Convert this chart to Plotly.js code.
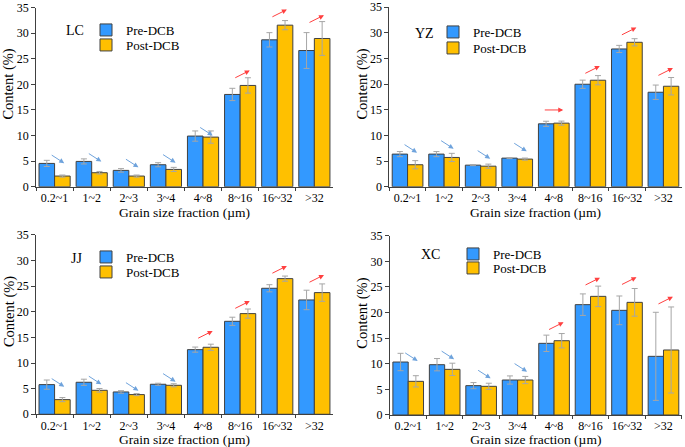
<!DOCTYPE html>
<html>
<head>
<meta charset="utf-8">
<script src="https://cdn.plot.ly/plotly-3.0.1.min.js"></script>
<style>
  html, body { margin: 0; padding: 0; background: #fff; }
  #gd { width: 685px; height: 447px; }
</style>
</head>
<body>
<div id="gd"></div>
<script>
const categories = ['0.2~1', '1~2', '2~3', '3~4', '4~8', '8~16', '16~32', '>32'];

// LC
const lcPre = [4.55, 4.94, 3.19, 4.29, 9.89, 18.02, 28.69, 26.6];
const lcPreErr = [0.6, 0.5, 0.35, 0.4, 1.0, 1.2, 1.4, 3.5];
const lcPost = [2.08, 2.73, 2.08, 3.38, 9.69, 19.78, 31.55, 28.95];
const lcPostErr = [0.2, 0.25, 0.2, 0.4, 1.2, 1.5, 0.9, 3.3];
const lcArrowY = [4.6, 4.9, 3.8, 4.7, 10.0, 22.7, 34.6, 33.5];
const lcTrend = ['down', 'down', 'down', 'down', 'down', 'up', 'up', 'up'];

// YZ
const yzPre = [6.35, 6.35, 4.2, 5.57, 12.25, 19.96, 26.83, 18.4];
const yzPreErr = [0.5, 0.5, 0.1, 0.1, 0.5, 0.8, 0.7, 1.4];
const yzPost = [4.28, 5.7, 4.0, 5.38, 12.38, 20.74, 28.13, 19.57];
const yzPostErr = [0.8, 0.8, 0.4, 0.2, 0.4, 0.9, 0.7, 1.7];
const yzArrowY = [6.63, 7.4, 5.46, 6.9, 14.95, 23.5, 31.0, 23.1];
const yzTrend = ['down', 'down', 'down', 'down', 'flat', 'up', 'up', 'up'];

// JJ
const jjPre = [5.79, 6.25, 4.36, 5.86, 12.62, 18.15, 24.6, 22.32];
const jjPreErr = [0.9, 0.6, 0.25, 0.2, 0.5, 0.8, 0.7, 1.9];
const jjPost = [2.86, 4.68, 3.84, 5.66, 13.08, 19.65, 26.48, 23.75];
const jjPostErr = [0.4, 0.35, 0.2, 0.3, 0.6, 0.9, 0.5, 1.7];
const jjArrowY = [5.39, 5.86, 4.6, 6.37, 16.27, 22.1, 28.96, 27.2];
const jjTrend = ['down', 'down', 'down', 'down', 'up', 'up', 'up', 'up'];

// XC
const xcPre = [10.34, 9.82, 5.73, 6.83, 13.99, 21.54, 20.43, 11.45];
const xcPreErr = [1.7, 1.2, 0.6, 0.8, 1.6, 2.1, 2.8, 8.6];
const xcPost = [6.57, 8.91, 5.6, 6.83, 14.5, 23.16, 21.99, 12.69];
const xcPostErr = [1.1, 1.2, 0.6, 0.7, 1.4, 2.0, 2.7, 8.4];
const xcArrowY = [10.55, 10.9, 7.16, 8.46, 18.1, 26.8, 26.9, 23.1];
const xcTrend = ['down', 'down', 'down', 'down', 'up', 'up', 'up', 'up'];

const preColor = '#3399FF';
const postColor = '#FFC000';
const font = '"Liberation Serif", "Times New Roman", serif';

// leg: [legend left px, Pre-DCB row y px, Post-DCB row y px]
const panels = [
  {name: 'LC', pre: lcPre, preErr: lcPreErr, post: lcPost, postErr: lcPostErr, arrowY: lcArrowY, trend: lcTrend,
   xd: [0.0526, 0.486], yd: [0.5823, 0.9832], label: [75, 30], leg: [86, 30, 45]},
  {name: 'YZ', pre: yzPre, preErr: yzPreErr, post: yzPost, postErr: yzPostErr, arrowY: yzArrowY, trend: yzTrend,
   xd: [0.5683, 0.9952], yd: [0.5823, 0.9843], label: [424, 33], leg: [433, 32, 48]},
  {name: 'JJ', pre: jjPre, preErr: jjPreErr, post: jjPost, postErr: jjPostErr, arrowY: jjArrowY, trend: jjTrend,
   xd: [0.0526, 0.486], yd: [0.0732, 0.4743], label: [76, 258], leg: [86, 257, 272]},
  {name: 'XC', pre: xcPre, preErr: xcPreErr, post: xcPost, postErr: xcPostErr, arrowY: xcArrowY, trend: xcTrend,
   xd: [0.5693, 0.9952], yd: [0.0716, 0.4727], label: [430, 254], leg: [453, 254, 268]}
];

let data = [];
let layout = {
  width: 685,
  height: 447,
  margin: {l: 0, r: 0, t: 0, b: 0},
  paper_bgcolor: '#fff',
  plot_bgcolor: '#fff',
  font: {family: font, color: '#000', size: 12},
  showlegend: true,
  barmode: 'group',
  bargap: 0.16,
  bargroupgap: 0,
  annotations: []
};

function legendBox(left, rowY) {
  return {
    x: left / 685,
    y: 1 - rowY / 447,
    xanchor: 'left',
    yanchor: 'middle',
    bgcolor: 'rgba(0,0,0,0)',
    borderwidth: 0,
    font: {family: font, size: 13, color: '#000'},
    itemwidth: 30,
    visible: true
  };
}

panels.forEach((p, k) => {
  const n = k === 0 ? '' : String(k + 1);
  const legPre = 'legend' + (k === 0 ? '' : String(2 * k + 1));
  const legPost = 'legend' + String(2 * k + 2);
  const common = {
    type: 'bar',
    x: categories,
    xaxis: 'x' + n,
    yaxis: 'y' + n,
    showlegend: true,
    hoverinfo: 'y'
  };
  data.push(Object.assign({}, common, {
    y: p.pre,
    name: 'Pre-DCB',
    legend: legPre,
    marker: {color: preColor, line: {color: '#404040', width: 1}},
    error_y: {type: 'data', array: p.preErr, visible: true, color: '#A6A6A6', thickness: 1, width: 3}
  }));
  data.push(Object.assign({}, common, {
    y: p.post,
    name: 'Post-DCB',
    legend: legPost,
    marker: {color: postColor, line: {color: '#404040', width: 1}},
    error_y: {type: 'data', array: p.postErr, visible: true, color: '#A6A6A6', thickness: 1, width: 3}
  }));
  layout[legPre] = legendBox(p.leg[0], p.leg[1]);
  layout[legPost] = legendBox(p.leg[0], p.leg[2]);

  layout['xaxis' + n] = {
    domain: p.xd,
    anchor: 'y' + n,
    type: 'category',
    range: [-0.5, 7.5],
    automargin: false,
    showgrid: false,
    zeroline: false,
    showline: true,
    linecolor: '#404040',
    linewidth: 1,
    ticks: 'outside',
    tickson: 'boundaries',
    ticklen: 3,
    tickcolor: '#404040',
    tickangle: 0,
    tickfont: {family: font, size: 12},
    title: {text: 'Grain size fraction (µm)', font: {family: font, size: 13.5}, standoff: 0}
  };
  layout['yaxis' + n] = {
    domain: p.yd,
    anchor: 'x' + n,
    range: [0, 35],
    dtick: 5,
    automargin: false,
    showgrid: false,
    zeroline: false,
    showline: true,
    linecolor: '#404040',
    linewidth: 1,
    ticks: 'outside',
    ticklen: 4,
    tickcolor: '#404040',
    tickfont: {family: font, size: 12}
  };

  // y-axis title placed a little above the axis centre, as in the source figure
  layout.annotations.push({
    text: 'Content (%)',
    xref: 'x' + n + ' domain', yref: 'y' + n + ' domain',
    x: 0, y: 0.57,
    xanchor: 'center', yanchor: 'middle',
    xshift: -27,
    textangle: -90,
    showarrow: false,
    font: {family: font, size: 14.5}
  });
  // panel label
  layout.annotations.push({
    text: p.name,
    xref: 'paper', yref: 'paper',
    x: p.label[0] / 685, y: 1 - p.label[1] / 447,
    xanchor: 'center', yanchor: 'middle',
    showarrow: false,
    font: {family: font, size: 14}
  });
  // trend arrows
  p.trend.forEach((t, i) => {
    const blue = t === 'down';
    layout.annotations.push({
      text: '',
      xref: 'x' + n, yref: 'y' + n,
      x: i + 0.26, y: p.arrowY[i],
      showarrow: true,
      arrowhead: 2,
      arrowsize: 1,
      arrowwidth: 1,
      arrowcolor: blue ? '#6FA3DC' : '#FF4040',
      ax: t === 'down' ? -14 : (t === 'up' ? -16 : -20),
      ay: t === 'down' ? -9 : (t === 'up' ? 8 : 0),
      standoff: 0,
      startstandoff: 0,
      font: {size: 1}
    });
  });
});

Plotly.newPlot('gd', data, layout, {displayModeBar: false, staticPlot: true});
</script>
</body>
</html>
